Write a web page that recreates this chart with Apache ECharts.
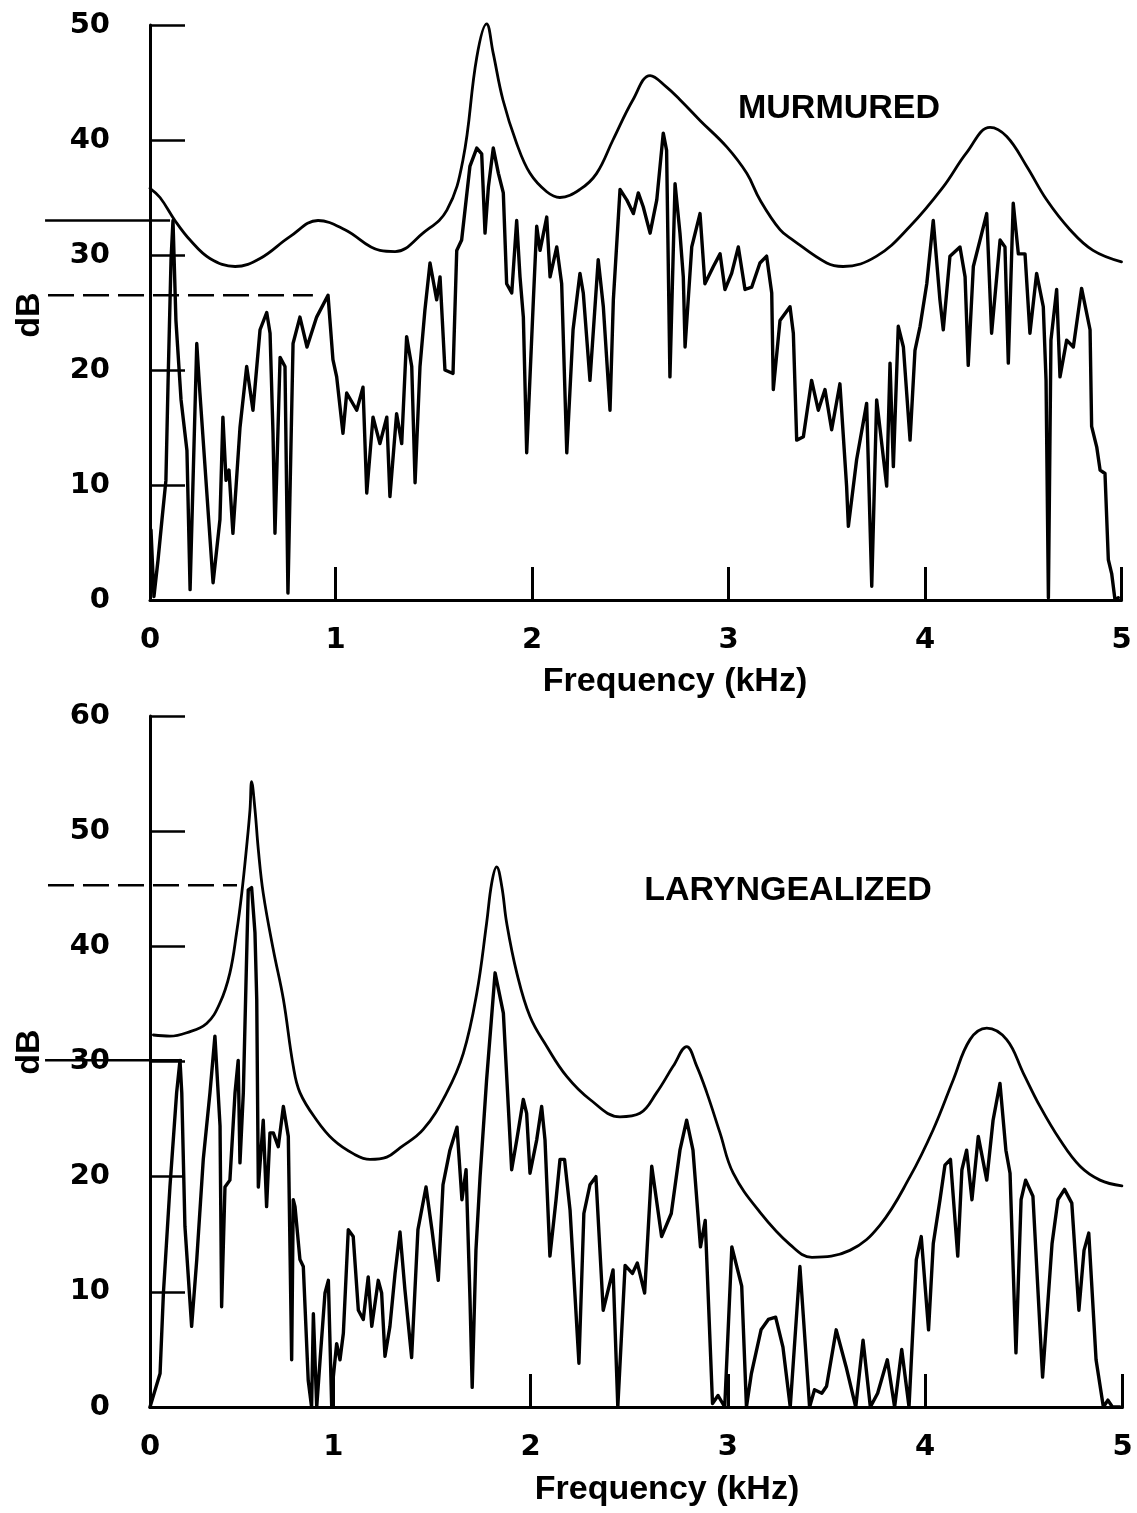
<!DOCTYPE html>
<html>
<head>
<meta charset="utf-8">
<script src="https://cdn.jsdelivr.net/npm/echarts@6/dist/echarts.min.js"></script>
<style>
  html, body { margin: 0; padding: 0; background: #fff; }
  #chart { width: 1137px; height: 1513px; }
</style>
</head>
<body>
<div id="chart"></div>
<script>
// Frequency tick labels (kHz) shared by both panels
const freqTicks = [0, 1, 2, 3, 4, 5];

// ---- Murmured vowel: LPC-style envelope and FFT spectrum, [kHz, dB] ----
const murmuredEnvelope = [
  [0.056, 35.8], [0.107, 35.0], [0.183, 33.0], [0.260, 31.3], [0.361, 29.7], [0.489, 29.0],
  [0.616, 29.7], [0.768, 31.6], [0.911, 33.0], [1.048, 32.2], [1.226, 30.4], [1.303, 30.3],
  [1.445, 31.9], [1.567, 33.9], [1.649, 38.3], [1.719, 47.2], [1.769, 50.1], [1.802, 47.6],
  [1.852, 43.5], [1.922, 39.7], [1.990, 37.1], [2.075, 35.5], [2.142, 35.0], [2.244, 35.7],
  [2.329, 37.1], [2.412, 40.0], [2.514, 43.5], [2.601, 45.6], [2.685, 44.6], [2.753, 43.5],
  [2.855, 41.7], [2.991, 39.4], [3.093, 37.1], [3.160, 34.8], [3.262, 32.2], [3.328, 31.3],
  [3.500, 29.3], [3.583, 29.0], [3.754, 29.9], [3.924, 32.5], [4.092, 35.9], [4.212, 38.9],
  [4.331, 41.1], [4.416, 40.3], [4.518, 37.7], [4.619, 34.8], [4.738, 32.2], [4.855, 30.4],
  [5.000, 29.4]
];
const murmuredSpectrum = [
  [0.061, 6.1], [0.076, 0.3], [0.097, 3.5], [0.117, 7.0], [0.137, 10.4], [0.148, 19.0],
  [0.163, 29.6], [0.173, 33.0], [0.188, 24.3], [0.214, 17.4], [0.244, 13.0], [0.260, 0.9],
  [0.294, 22.3], [0.310, 18.0], [0.377, 1.5], [0.412, 7.0], [0.427, 15.9], [0.443, 10.4],
  [0.458, 11.3], [0.478, 5.8], [0.514, 15.0], [0.548, 20.3], [0.580, 16.5], [0.616, 23.5],
  [0.650, 25.0], [0.667, 23.2], [0.682, 14.5], [0.692, 5.8], [0.718, 21.1], [0.743, 20.3],
  [0.758, 0.6], [0.784, 22.3], [0.819, 24.6], [0.855, 22.0], [0.904, 24.6], [0.962, 26.5],
  [0.987, 20.9], [1.006, 19.4], [1.038, 14.5], [1.057, 18.0], [1.108, 16.5], [1.140, 18.5],
  [1.159, 9.3], [1.191, 15.9], [1.226, 13.6], [1.261, 15.9], [1.277, 9.0], [1.311, 16.2],
  [1.337, 13.6], [1.362, 22.9], [1.388, 20.3], [1.405, 10.2], [1.430, 20.3], [1.455, 25.2],
  [1.481, 29.3], [1.515, 26.1], [1.532, 28.1], [1.557, 20.0], [1.598, 19.7], [1.617, 30.4],
  [1.642, 31.3], [1.684, 37.7], [1.719, 39.3], [1.744, 38.8], [1.761, 31.9], [1.778, 35.9],
  [1.803, 39.3], [1.829, 37.1], [1.854, 35.4], [1.871, 27.5], [1.897, 26.7], [1.922, 33.0],
  [1.939, 28.1], [1.956, 24.6], [1.973, 12.8], [2.007, 26.1], [2.024, 32.5], [2.041, 30.4],
  [2.075, 33.3], [2.092, 28.1], [2.126, 30.7], [2.151, 27.5], [2.177, 12.8], [2.209, 23.5],
  [2.244, 28.4], [2.261, 26.7], [2.295, 19.1], [2.337, 29.6], [2.363, 25.5], [2.397, 16.5],
  [2.414, 26.1], [2.448, 35.7], [2.482, 34.8], [2.516, 33.6], [2.541, 35.4], [2.566, 34.2],
  [2.601, 31.9], [2.635, 34.8], [2.668, 40.6], [2.685, 39.1], [2.702, 19.4], [2.728, 36.2],
  [2.753, 31.9], [2.770, 28.1], [2.779, 22.0], [2.813, 30.7], [2.855, 33.6], [2.880, 27.5],
  [2.923, 29.0], [2.957, 30.1], [2.982, 27.0], [3.016, 28.4], [3.050, 30.7], [3.084, 27.0],
  [3.118, 27.2], [3.160, 29.3], [3.194, 29.9], [3.220, 26.7], [3.228, 18.3], [3.262, 24.3],
  [3.313, 25.5], [3.330, 23.2], [3.347, 13.9], [3.381, 14.2], [3.423, 19.1], [3.457, 16.5],
  [3.491, 18.3], [3.525, 14.8], [3.567, 18.8], [3.601, 9.9], [3.610, 6.4], [3.652, 12.2],
  [3.703, 17.1], [3.729, 1.2], [3.754, 17.4], [3.805, 9.9], [3.822, 20.6], [3.839, 11.6],
  [3.864, 23.8], [3.890, 22.0], [3.924, 13.9], [3.949, 21.7], [3.975, 23.8], [4.009, 27.5],
  [4.042, 33.0], [4.076, 26.1], [4.093, 23.5], [4.127, 29.9], [4.178, 30.7], [4.204, 28.1],
  [4.220, 20.4], [4.246, 29.0], [4.289, 31.9], [4.314, 33.6], [4.339, 23.2], [4.382, 31.3],
  [4.407, 30.7], [4.424, 20.6], [4.449, 34.5], [4.475, 30.1], [4.509, 30.1], [4.534, 23.2],
  [4.568, 28.4], [4.602, 25.5], [4.616, 19.1], [4.628, 0.2], [4.641, 22.6], [4.670, 27.0],
  [4.687, 19.4], [4.721, 22.6], [4.755, 22.0], [4.797, 27.1], [4.840, 23.5], [4.848, 15.1],
  [4.874, 13.3], [4.891, 11.3], [4.916, 11.0], [4.933, 3.5], [4.950, 2.3], [4.967, 0.0],
  [4.984, 0.2]
];
// Level markers: first-harmonic amplitude (solid) and peak near 1 kHz (dashed)
const murmuredRefSolid = [[-0.478, 33.0], [0.158, 33.0]];
const murmuredRefDashed = [[-0.463, 26.5], [0.885, 26.5]];

// ---- Laryngealized vowel ----
const laryngEnvelope = [
  [0.088, 32.3], [0.172, 32.2], [0.257, 32.5], [0.358, 33.3], [0.426, 35.1], [0.476, 37.7],
  [0.510, 41.2], [0.536, 44.6], [0.561, 48.7], [0.578, 51.9], [0.586, 54.3], [0.603, 51.9],
  [0.620, 48.4], [0.645, 44.6], [0.696, 39.7], [0.747, 35.4], [0.797, 29.6], [0.831, 27.3],
  [0.916, 24.9], [1.000, 23.2], [1.101, 22.0], [1.186, 21.5], [1.271, 21.7], [1.338, 22.5],
  [1.456, 24.1], [1.575, 27.3], [1.659, 30.7], [1.727, 35.9], [1.777, 42.0], [1.803, 45.5],
  [1.828, 46.9], [1.854, 45.2], [1.879, 42.0], [1.930, 37.7], [1.997, 33.9], [2.082, 31.3],
  [2.183, 28.7], [2.301, 26.7], [2.453, 25.2], [2.554, 25.5], [2.639, 27.3], [2.723, 29.6],
  [2.791, 31.3], [2.842, 29.6], [2.893, 27.3], [2.960, 23.8], [3.027, 20.3], [3.163, 16.9],
  [3.315, 14.1], [3.426, 13.0], [3.618, 13.6], [3.771, 15.8], [3.923, 20.0], [4.041, 24.1],
  [4.142, 28.4], [4.227, 31.9], [4.312, 32.9], [4.413, 31.9], [4.497, 29.0], [4.582, 26.1],
  [4.683, 23.2], [4.785, 20.9], [4.886, 19.7], [4.997, 19.2]
];
const laryngSpectrum = [
  [0.071, 0.0], [0.122, 2.9], [0.139, 9.9], [0.172, 19.1], [0.206, 27.3], [0.223, 30.1],
  [0.232, 27.3], [0.248, 15.7], [0.282, 7.0], [0.308, 12.8], [0.341, 21.5], [0.375, 27.3],
  [0.400, 32.2], [0.426, 24.4], [0.434, 8.7], [0.451, 19.1], [0.476, 19.7], [0.502, 27.3],
  [0.518, 30.1], [0.527, 21.2], [0.544, 27.3], [0.569, 44.9], [0.586, 45.1], [0.603, 41.2],
  [0.612, 35.4], [0.620, 19.1], [0.645, 24.9], [0.662, 17.4], [0.679, 23.8], [0.696, 23.8],
  [0.721, 22.6], [0.747, 26.1], [0.772, 23.5], [0.789, 4.1], [0.797, 18.0], [0.806, 17.4],
  [0.831, 12.8], [0.848, 12.2], [0.873, 2.3], [0.890, 0.0], [0.899, 8.1], [0.916, 0.0],
  [0.933, 4.1], [0.958, 9.9], [0.975, 11.0], [0.992, 0.0], [1.000, 2.6], [1.017, 5.5],
  [1.034, 4.1], [1.051, 6.4], [1.076, 15.4], [1.101, 14.8], [1.127, 8.4], [1.152, 7.6],
  [1.177, 11.3], [1.195, 7.0], [1.228, 11.0], [1.245, 9.9], [1.262, 4.4], [1.287, 7.0],
  [1.313, 11.6], [1.338, 15.2], [1.363, 10.2], [1.397, 4.3], [1.429, 15.4], [1.470, 19.1],
  [1.500, 15.4], [1.532, 11.0], [1.556, 19.3], [1.591, 22.3], [1.627, 24.3], [1.652, 18.0],
  [1.673, 20.6], [1.693, 9.3], [1.704, 1.7], [1.723, 13.6], [1.744, 20.0], [1.777, 28.4],
  [1.820, 37.7], [1.862, 34.2], [1.887, 26.1], [1.904, 20.6], [1.930, 23.2], [1.963, 26.7],
  [1.980, 25.5], [1.997, 20.3], [2.031, 23.2], [2.056, 26.1], [2.073, 23.2], [2.098, 13.1],
  [2.129, 18.0], [2.149, 21.5], [2.172, 21.5], [2.200, 17.1], [2.245, 3.8], [2.270, 16.8],
  [2.301, 19.3], [2.331, 20.0], [2.368, 8.4], [2.418, 11.9], [2.442, 0.0], [2.479, 12.3],
  [2.516, 11.6], [2.541, 12.5], [2.578, 9.9], [2.614, 20.9], [2.664, 14.8], [2.713, 16.8],
  [2.757, 22.3], [2.791, 24.9], [2.823, 22.3], [2.861, 13.9], [2.885, 16.2], [2.922, 0.3],
  [2.950, 1.0], [2.984, 0.0], [3.020, 13.9], [3.070, 10.5], [3.094, 0.0], [3.119, 2.9],
  [3.168, 6.7], [3.205, 7.6], [3.242, 7.8], [3.279, 5.2], [3.316, 0.0], [3.365, 12.2],
  [3.414, 0.0], [3.439, 1.5], [3.476, 1.2], [3.500, 1.8], [3.549, 6.7], [3.599, 3.5],
  [3.648, 0.0], [3.685, 5.8], [3.722, 0.0], [3.759, 1.2], [3.808, 4.1], [3.845, 0.0],
  [3.881, 5.0], [3.918, 0.0], [3.955, 12.8], [3.980, 14.8], [4.017, 6.7], [4.041, 14.2],
  [4.075, 18.0], [4.100, 21.0], [4.128, 21.5], [4.165, 13.1], [4.186, 20.6], [4.210, 22.3],
  [4.237, 18.0], [4.269, 23.5], [4.312, 19.7], [4.344, 24.9], [4.379, 28.1], [4.409, 22.3],
  [4.430, 20.3], [4.460, 4.7], [4.486, 18.0], [4.509, 19.7], [4.546, 18.3], [4.595, 2.6],
  [4.643, 14.2], [4.673, 18.0], [4.706, 18.9], [4.743, 17.7], [4.779, 8.4], [4.805, 13.6],
  [4.829, 15.1], [4.866, 4.1], [4.903, 0.0], [4.926, 0.6], [4.949, 0.0], [4.987, 0.0]
];
const laryngRefDashed = [[-0.446, 45.3], [0.512, 45.3]];
const laryngRefSolid = [[-0.461, 30.1], [0.233, 30.1]];

// ---- Styling ----
const INK = '#000';
const NUM_FONT = '"DejaVu Sans", sans-serif';
const TXT_FONT = '"Liberation Sans", Arial, Helvetica, sans-serif';

function freqAxis(gridIndex, min) {
  return {
    type: 'value', gridIndex: gridIndex, min: min, max: 5,
    axisLine: { show: true, onZero: false, lineStyle: { color: INK, width: 3 } },
    axisTick: {
      show: true, inside: true, length: 33,
      customValues: freqTicks.slice(1),
      lineStyle: { color: INK, width: 3 }
    },
    axisLabel: {
      customValues: [min].concat(freqTicks.slice(1)),
      formatter: function (v) { return String(freqTicks[Math.round(v)]); },
      margin: 26, color: INK, fontFamily: NUM_FONT, fontSize: 29, fontWeight: 'bold'
    },
    splitLine: { show: false }
  };
}
function dbAxis(gridIndex, max) {
  return {
    type: 'value', gridIndex: gridIndex, min: 0, max: max, interval: 10,
    axisLine: { show: true, onZero: false, lineStyle: { color: INK, width: 3 } },
    axisTick: { show: true, inside: true, length: 35, lineStyle: { color: INK, width: 2.5 } },
    axisLabel: { margin: 40, color: INK, fontFamily: NUM_FONT, fontSize: 29, fontWeight: 'bold' },
    splitLine: { show: false }
  };
}
// Hidden axes on a wider grid with the same kHz/dB scale, so the level
// markers can reach out to the left of the dB axis.
function hiddenAxis(gridIndex, min, max) {
  return { type: 'value', gridIndex: gridIndex, min: min, max: max, show: false };
}
function curve(data, idx, width, smooth) {
  return {
    type: 'line', data: data, xAxisIndex: idx, yAxisIndex: idx,
    showSymbol: false, smooth: smooth, clip: false, silent: true,
    lineStyle: { color: INK, width: width, join: 'round', cap: 'round' }
  };
}
function refLine(data, idx, dashed) {
  return {
    type: 'line', data: data, xAxisIndex: idx, yAxisIndex: idx,
    showSymbol: false, clip: false, silent: true,
    lineStyle: { color: INK, width: 2.5, type: dashed ? [26, 9] : 'solid' }
  };
}
function label(text, x, y, size, rotate) {
  return {
    type: 'text', x: x, y: y, rotation: rotate ? Math.PI / 2 : 0, silent: true,
    style: {
      text: text, fill: INK, font: 'bold ' + size + 'px ' + TXT_FONT,
      align: 'center', verticalAlign: 'middle'
    }
  };
}

// Panel geometry: both grids put 5 kHz at the same right edge as the main axes
const TOP_MIN = 0.056, BOT_MIN = 0.071;
const TOP_W = 971.5, BOT_W = 972.5;
const EXTRA = 110; // extra width of the marker grids to the left
const topRefMin = TOP_MIN - EXTRA * (5 - TOP_MIN) / TOP_W;
const botRefMin = BOT_MIN - EXTRA * (5 - BOT_MIN) / BOT_W;

const chart = echarts.init(document.getElementById('chart'), null, { renderer: 'canvas' });
chart.setOption({
  backgroundColor: '#fff',
  animation: false,
  grid: [
    { left: 150, top: 25, width: TOP_W, height: 575 },
    { left: 150, top: 716, width: BOT_W, height: 691 },
    { left: 150 - EXTRA, top: 25, width: TOP_W + EXTRA, height: 575 },
    { left: 150 - EXTRA, top: 716, width: BOT_W + EXTRA, height: 691 }
  ],
  xAxis: [
    freqAxis(0, TOP_MIN), freqAxis(1, BOT_MIN),
    hiddenAxis(2, topRefMin, 5), hiddenAxis(3, botRefMin, 5)
  ],
  yAxis: [
    dbAxis(0, 50), dbAxis(1, 60),
    hiddenAxis(2, 0, 50), hiddenAxis(3, 0, 60)
  ],
  series: [
    refLine(murmuredRefSolid, 2, false),
    refLine(murmuredRefDashed, 2, true),
    curve(murmuredEnvelope, 0, 2.8, 0.4),
    curve(murmuredSpectrum, 0, 3.4, false),
    refLine(laryngRefDashed, 3, true),
    refLine(laryngRefSolid, 3, false),
    curve(laryngEnvelope, 1, 2.8, 0.4),
    curve(laryngSpectrum, 1, 3.4, false)
  ],
  graphic: [
    label('MURMURED', 839, 109, 34, false),
    label('LARYNGEALIZED', 788, 891, 34, false),
    label('Frequency (kHz)', 675, 682, 34, false),
    label('Frequency (kHz)', 667, 1490, 34, false),
    label('dB', 30, 315, 34, true),
    label('dB', 30, 1052, 34, true)
  ]
});
</script>
</body>
</html>
